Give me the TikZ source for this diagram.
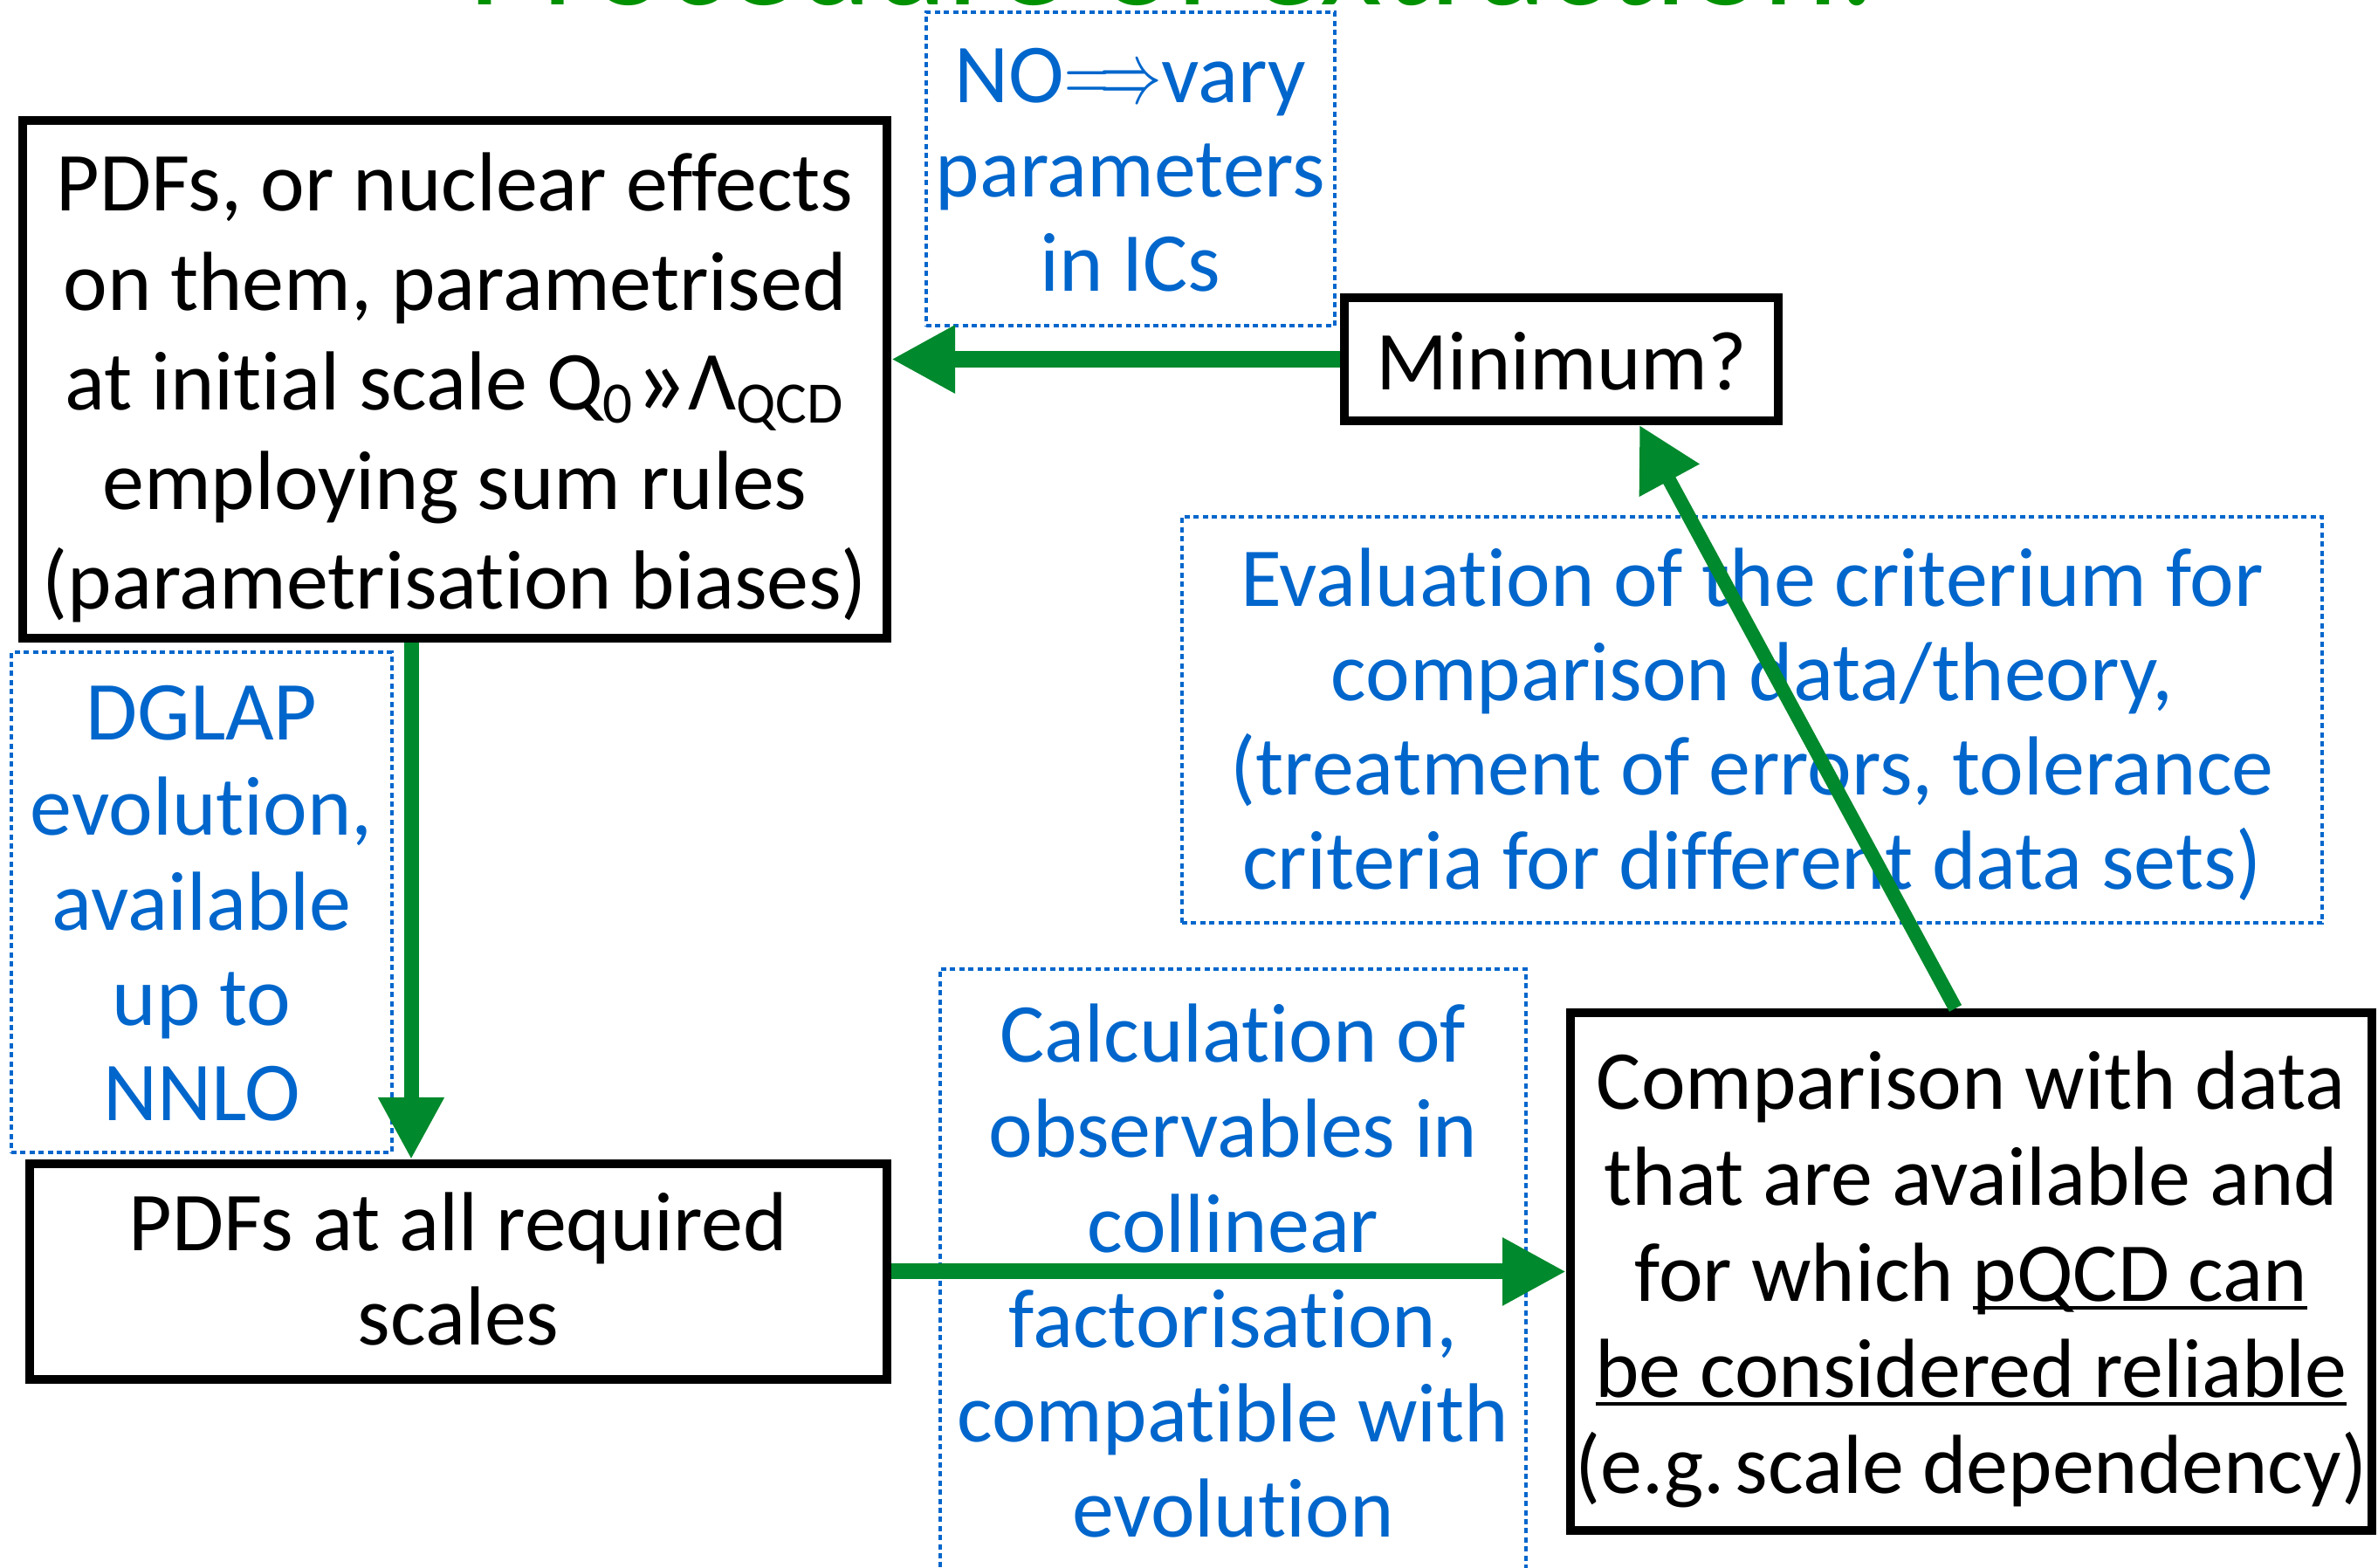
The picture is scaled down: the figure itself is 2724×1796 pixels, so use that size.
\documentclass[tikz,border=0pt]{standalone}
\usepackage{fontspec}
\usepackage{graphicx}
\setmainfont{Carlito}[Ligatures=NoCommon]
\usetikzlibrary{arrows.meta}
\definecolor{arrgreen}{RGB}{0,137,45}
\definecolor{titlegreen}{RGB}{0,145,0}
\definecolor{noteblue}{RGB}{0,102,204}
\newcommand\myuline[1]{\setbox0\hbox{#1}\rlap{\rule[-2.3pt]{\wd0}{1pt}}\box0}
\newcommand\lines[2]{\raisebox{#1}[\height][\depth]{\begin{tabular}{@{}c@{}}#2\end{tabular}}}
\begin{document}
\begin{tikzpicture}[x=0.25pt,y=-0.25pt,
  solidbox/.style={draw=black,line width=2.5pt,rectangle,inner sep=0pt},
  notebox/.style={draw=noteblue,line width=1.1pt,dash pattern=on 1.5pt off 1.1pt,rectangle,inner sep=0pt,text=noteblue},
  flow/.style={draw=arrgreen,line width=4.75pt,-{Triangle[width=18.25pt,length=18.25pt]}}
]
\fill[white] (0,0) rectangle (2724,1796);
\useasboundingbox (0,0) rectangle (2724,1796);

\node[anchor=base,text=titlegreen,font=\fontsize{41}{45}\selectfont,inner sep=0pt] (title) at (1343,6) {Procedure of extraction:};

\node[notebox,minimum width=117pt,minimum height=89.75pt,font=\fontsize{24}{27}\selectfont] (vary) at (1295,193.5)
  {\lines{-2.6pt}{NO\scalebox{0.72}[1]{$\Longrightarrow$}vary\\parameters\\in ICs}};
\node[notebox,minimum width=109pt,minimum height=143.25pt,font=\fontsize{24}{27.25}\selectfont] (dglap) at (231,1033.5)
  {\lines{-2.6pt}{DGLAP\\evolution,\\available\\up to\\NNLO}};
\node[notebox,minimum width=326.5pt,minimum height=116.25pt,font=\fontsize{24}{27}\selectfont] (evalc) at (2007,824.5)
  {\lines{-2.6pt}{Evaluation of the criterium for\\comparison data/theory,\\(treatment of errors, tolerance\\criteria for different data sets)}};
\node[notebox,minimum width=167.75pt,minimum height=173.25pt,font=\fontsize{24}{27.2}\selectfont] (calc) at (1412.5,1456.5)
  {\lines{-2.6pt}{Calculation of\\observables in\\collinear\\factorisation,\\compatible with\\evolution}};

\node[solidbox,minimum width=247.5pt,minimum height=148.25pt,font=\fontsize{24}{28.5}\selectfont] (pdfs) at (521,434.5)
  {\lines{-3pt}{PDFs, or nuclear effects\\on them, parametrised\\at initial scale Q\textsubscript{0}\raisebox{-1.5pt}{\fontsize{30}{30}\selectfont »}Λ\textsubscript{QCD}\\employing sum rules\\(parametrisation biases)}};
\node[solidbox,minimum width=124.25pt,minimum height=35.25pt,font=\fontsize{24}{27.5}\selectfont] (minq) at (1788.5,411.5)
  {\lines{-3.2pt}{Minimum?}};
\node[solidbox,minimum width=245.5pt,minimum height=61.75pt,font=\fontsize{24}{27}\selectfont] (allscales) at (525,1456.5)
  {\lines{-2.2pt}{PDFs at all required\\scales}};
\node[solidbox,minimum width=229.5pt,minimum height=148.25pt,font=\fontsize{24}{27.5}\selectfont] (compare) at (2258,1456.5)
  {\lines{-3pt}{Comparison with data\\that are available and\\for which \myuline{pQCD can}\\\myuline{be considered reliable}\\(e.g.\hspace{0.12em}scale dependency)}};

\coordinate (vx) at (471,0);
\coordinate (dtop) at (1878,0);
\coordinate (dbot) at (2240,0);
\draw[flow] (minq.west) -- (pdfs.east |- minq.west);
\draw[flow,line width=4.25pt,-{Triangle[width=17.75pt,length=17.75pt]}] (pdfs.south -| vx) -- (allscales.north -| vx);
\draw[flow,line width=4.5pt] (allscales.east) -- (compare.west |- allscales.east);
\draw[flow,line width=4pt,-{Triangle[width=18.5pt,length=18pt]}] (compare.north -| dbot) -- (minq.south -| dtop);
\end{tikzpicture}
\end{document}
